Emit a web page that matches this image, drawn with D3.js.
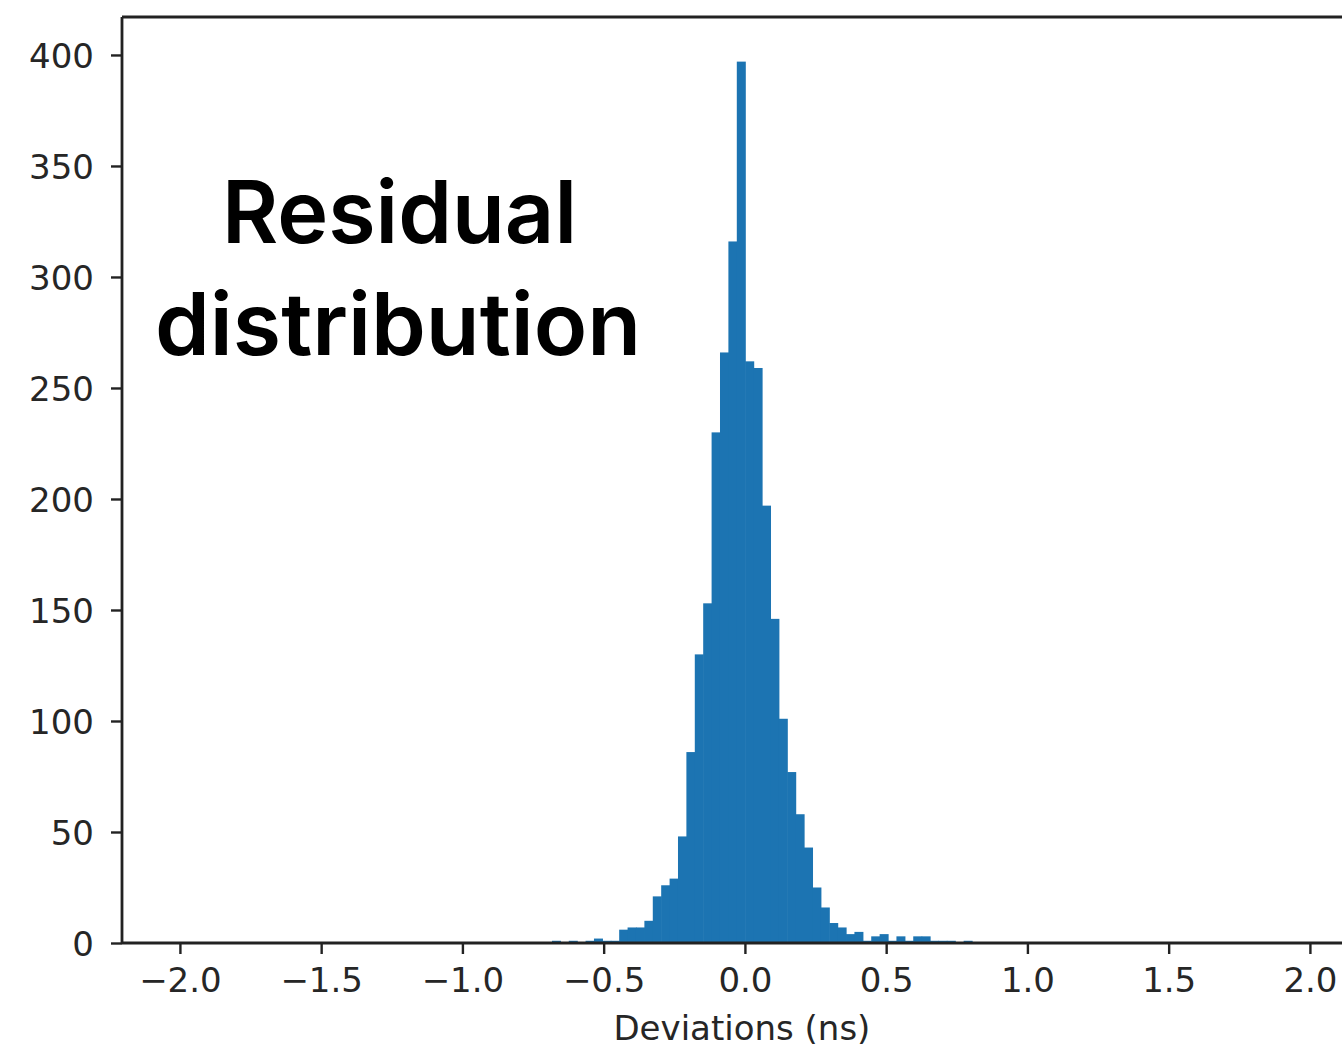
<!DOCTYPE html>
<html>
<head>
<meta charset="utf-8">
<script src="https://cdn.jsdelivr.net/npm/d3@7"></script>
<style>
  html, body { margin: 0; padding: 0; background: #fff; overflow: hidden; }
  svg { display: block; }
</style>
</head>
<body>
<svg id="chart" width="1342" height="1049"></svg>
<script>
// ---- data ----
const binCounts = [1, 0, 1, 0, 1, 2, 1, 1, 6, 7,
                   7, 10, 21, 26, 29, 48, 86, 130, 153, 230,
                   266, 316, 397, 262, 259, 197, 146, 101, 77, 58,
                   43, 25, 16, 9, 7, 4, 5, 1, 3, 4,
                   1, 3, 1, 3, 3, 1, 1, 1, 0, 1];
const dataRange = [-0.683, 0.804];           // histogram range (min, max of deviations)
const xTickValues = [-2.0, -1.5, -1.0, -0.5, 0.0, 0.5, 1.0, 1.5, 2.0];
const yTickValues = [0, 50, 100, 150, 200, 250, 300, 350, 400];
const xDomain = [-2.205, 2.205];
const yDomain = [0, 417.1];
const xLabel = "Deviations (ns)";
const titleLines = ["Residual", "distribution"];

// ---- layout ----
const svg = d3.select("#chart");
const mLeft = 122, mTop = 17, mBottom = 943;
const pxPerUnit = 282.5;
const mRight = mLeft + (xDomain[1] - xDomain[0]) * pxPerUnit;

const x = d3.scaleLinear().domain(xDomain).range([mLeft, mRight]);
const y = d3.scaleLinear().domain(yDomain).range([mBottom, mTop]);

const nb = binCounts.length;
const bw = (dataRange[1] - dataRange[0]) / nb;
const bins = binCounts.map((c, i) => ({x0: dataRange[0] + i * bw, x1: dataRange[0] + (i + 1) * bw, c}));

// bars
svg.append("g")
  .selectAll("rect")
  .data(bins.filter(d => d.c > 0))
  .join("rect")
  .attr("x", d => x(d.x0))
  .attr("width", d => x(d.x1) - x(d.x0) + 0.6)
  .attr("y", d => y(d.c))
  .attr("height", d => y(0) - y(d.c))
  .attr("fill", "#1c74b2");

// axes
const fontFam = "'DejaVu Sans', sans-serif";
const fs = "34px";
const xAxis = d3.axisBottom(x).tickValues(xTickValues).tickFormat(d3.format(".1f")).tickSizeOuter(0).tickSize(11).tickPadding(14);
const yAxis = d3.axisLeft(y).tickValues(yTickValues).tickFormat(d3.format("d")).tickSizeOuter(0).tickSize(11).tickPadding(17);

const gx = svg.append("g").attr("transform", `translate(0,${mBottom})`).call(xAxis);
const gy = svg.append("g").attr("transform", `translate(${mLeft},0)`).call(yAxis);
[gx, gy].forEach(g => {
  g.select(".domain").remove();
  g.selectAll(".tick line").attr("stroke", "#222").attr("stroke-width", 2.4);
  g.selectAll(".tick text").attr("fill", "#262626").style("font-family", fontFam).style("font-size", fs);
});
gy.selectAll(".tick text").attr("dy", "0.36em");

// spines
const spine = svg.append("g").attr("fill", "none").attr("stroke", "#222").attr("stroke-width", 2.8);
spine.append("line").attr("x1", mLeft).attr("x2", mRight).attr("y1", mBottom).attr("y2", mBottom);
spine.append("line").attr("x1", mLeft).attr("x2", mRight).attr("y1", mTop).attr("y2", mTop);
spine.append("line").attr("x1", mLeft).attr("x2", mLeft).attr("y1", mTop).attr("y2", mBottom);
spine.append("line").attr("x1", mRight).attr("x2", mRight).attr("y1", mTop).attr("y2", mBottom);

// x label
svg.append("text")
  .attr("x", x(0) - 3)
  .attr("y", 1040)
  .attr("text-anchor", "middle")
  .attr("fill", "#262626")
  .style("font-family", fontFam)
  .style("font-size", fs)
  .text(xLabel);

// overlay title
const tfont = "Inter, 'Noto Sans', sans-serif";
const tg = svg.append("g");
const tspecs = [{t: titleLines[0], cx: 399.5, base: 243, w: 355}, {t: titleLines[1], cx: 398, base: 355, w: 486}];
tspecs.forEach(s => {
  tg.append("text")
    .attr("x", s.cx - s.w / 2)
    .attr("y", s.base)
    .attr("fill", "#000")
    .attr("textLength", s.w)
    .attr("lengthAdjust", "spacingAndGlyphs")
    .style("font-family", tfont)
    .style("font-weight", 600)
    .style("font-size", "86px")
    .text(s.t);
});
</script>
</body>
</html>
